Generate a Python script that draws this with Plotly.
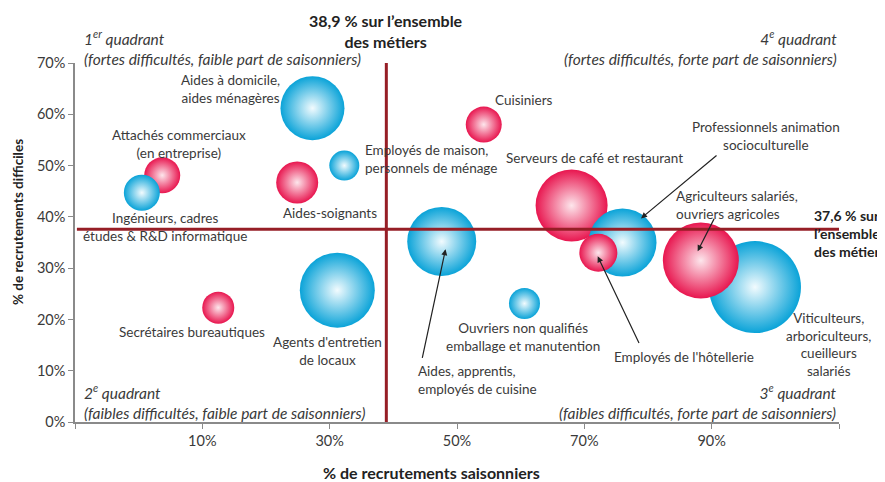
import plotly.graph_objects as go

# ---- data ----
jobs = ["Aides à domicile", "Employés de maison", "Attachés commerciaux", "Ingénieurs",
        "Aides-soignants", "Secrétaires bureautiques", "Agents d'entretien",
        "Aides, apprentis", "Cuisiniers", "Ouvriers non qualifiés",
        "Serveurs", "Prof. animation", "Employés hôtellerie",
        "Viticulteurs", "Agriculteurs salariés"]
pct_saisonniers = [27.3, 32.3, 3.7, 0.5, 24.9, 12.5, 31.2, 47.6, 54.2, 60.6,
                   68.0, 76.0, 72.2, 96.8, 88.3]
pct_difficiles = [61.2, 50.0, 48.1, 44.7, 46.7, 22.3, 25.7, 35.2, 58.0, 23.1,
                  42.2, 35.0, 33.0, 26.3, 31.5]
bubble_size = [64, 30, 36, 36, 42, 32, 75, 69, 36, 31, 72, 68, 38, 92, 76]
groupe = ["b", "b", "r", "b", "r", "r", "b", "b", "r", "b", "r", "b", "r", "b", "r"]

ref_saisonniers = 38.9
ref_difficiles = 37.6

x_ticks = [-10, 10, 30, 50, 70, 90, 110]
x_tick_labels = ["", "10%", "30%", "50%", "70%", "90%", ""]
y_ticks = [0, 10, 20, 30, 40, 50, 60, 70]
y_tick_labels = ["0%", "10%", "20%", "30%", "40%", "50%", "60%", "70%"]

BLUE, BLUE_C = "#0aa3d8", "#f2fbfe"
RED, RED_C = "#e8164f", "#fde6ec"
colors = [BLUE if g == "b" else RED for g in groupe]
centers = [BLUE_C if g == "b" else RED_C for g in groupe]

FONT = "Lato"
TXT = "#3a3a3a"
LBL = 13.5

fig = go.Figure()
fig.add_trace(go.Scatter(
    x=pct_saisonniers, y=pct_difficiles, mode="markers", text=jobs,
    hoverinfo="text",
    marker=dict(size=bubble_size, sizemode="diameter", color=colors, opacity=1,
                line=dict(width=0),
                gradient=dict(type="radial", color=centers)),
    showlegend=False, cliponaxis=False))

DARKRED = "#961e26"
fig.add_shape(type="line", x0=ref_saisonniers, x1=ref_saisonniers, y0=0, y1=70.5,
              xref="x", yref="y", line=dict(color=DARKRED, width=3), layer="above")
fig.add_shape(type="line", x0=-9.7, x1=110.5, y0=ref_difficiles, y1=ref_difficiles,
              xref="x", yref="y", line=dict(color=DARKRED, width=3), layer="above")

ann = []
def lab(x, y, t, xa="center", align="center", size=LBL, xref="x", yref="y", color=TXT, **kw):
    ann.append(dict(x=x, y=y, xref=xref, yref=yref, text=t, showarrow=False,
                    xanchor=xa, yanchor="middle", align=align,
                    font=dict(family=FONT, size=size, color=color), **kw))

lab(14.4, 64.9, "Aides à domicile,<br>aides ménagères")
lab(6.4, 54.3, "Attachés commerciaux<br>(en entreprise)")
lab(35.2, 51.2, "Employés de maison,<br>personnels de ménage", xa="left", align="left")
lab(4.2, 38.1, "Ingénieurs, cadres<br>études &amp; R&amp;D informatique")
lab(30.0, 40.7, "Aides-soignants")
lab(8.3, 17.5, "Secrétaires bureautiques")
lab(29.6, 13.8, "Agents d'entretien<br>de locaux")
lab(60.6, 62.7, "Cuisiniers")
lab(71.6, 51.4, "Serveurs de café et restaurant")
lab(98.5, 55.7, "Professionnels animation<br>socioculturelle")
lab(84.1, 42.4, "Agriculteurs salariés,<br>ouvriers agricoles", xa="left", align="left")
lab(60.3, 16.5, "Ouvriers non qualifiés<br>emballage et manutention")
lab(85.6, 12.6, "Employés de l'hôtellerie")
lab(108.3, 15.1, "Viticulteurs,<br>arboriculteurs,<br>cueilleurs<br>salariés")
lab(43.5, 8.1, "Aides, apprentis,<br>employés de cuisine", xa="left", align="left")

lab(ref_saisonniers, 1.089, "<b>38,9 % sur l’ensemble<br>des métiers</b>", yref="paper",
    color="#222", size=16)
lab(105.8, 36.8, "<b>37,6 % sur<br>l’ensemble<br>des métiers</b>", xa="left", align="left",
    color="#222", size=14)

QS = 15.5
lab(0.009, 1.044, "<i>1<sup>er</sup> quadrant<br>(fortes difficultés, faible part de saisonniers)</i>",
    xa="left", align="left", xref="paper", yref="paper", size=QS)
lab(1.0, 1.044, "<i>4<sup>e</sup> quadrant<br>(fortes difficultés, forte part de saisonniers)</i>",
    xa="right", align="right", xref="paper", yref="paper", size=QS)
lab(0.009, 0.058, "<i>2<sup>e</sup> quadrant<br>(faibles difficultés, faible part de saisonniers)</i>",
    xa="left", align="left", xref="paper", yref="paper", size=QS)
lab(1.0, 0.058, "<i>3<sup>e</sup> quadrant<br>(faibles difficultés, forte part de saisonniers)</i>",
    xa="right", align="right", xref="paper", yref="paper", size=QS)

lab(0.467, -0.142, "<b>% de recrutements saisonniers</b>", xref="paper", yref="paper",
    size=16, color="#222")
ann.append(dict(x=-0.0746, y=0.557, xref="paper", yref="paper", showarrow=False,
                text="<b>% de recrutements difficiles</b>", textangle=-90,
                xanchor="center", yanchor="middle",
                font=dict(family=FONT, size=13.5, color="#222")))

def arrow(x0, y0, x1, y1):
    ann.append(dict(x=x1, y=y1, ax=x0, ay=y0, xref="x", yref="y", axref="x", ayref="y",
                    text="", showarrow=True, arrowhead=2, arrowsize=1, arrowwidth=1.2,
                    arrowcolor="#222", standoff=0))

arrow(44.5, 12.2, 48.2, 33.7)
arrow(78.7, 15.1, 72.1, 32.3)
arrow(91.0, 52.2, 78.9, 39.7)
arrow(90.5, 39.9, 87.8, 33.3)

fig.update_layout(
    width=877, height=474,
    margin=dict(l=67, r=46, t=55, b=60),
    paper_bgcolor="white", plot_bgcolor="white",
    annotations=ann,
    xaxis=dict(range=[-10, 110], tickvals=x_ticks, ticktext=x_tick_labels,
               showgrid=False, zeroline=False, showline=True, linecolor="#8a8a8a",
               linewidth=1.5, ticks="outside", ticklen=5, tickcolor="#8a8a8a",
               tickfont=dict(family=FONT, size=14.5, color=TXT)),
    yaxis=dict(range=[0, 70], tickvals=y_ticks, ticktext=y_tick_labels,
               showgrid=False, zeroline=False, showline=True, linecolor="#8a8a8a",
               linewidth=1.5, ticks="outside", ticklen=5, tickcolor="#8a8a8a",
               tickfont=dict(family=FONT, size=14.5, color=TXT)),
)

fig.write_html("out.html")
